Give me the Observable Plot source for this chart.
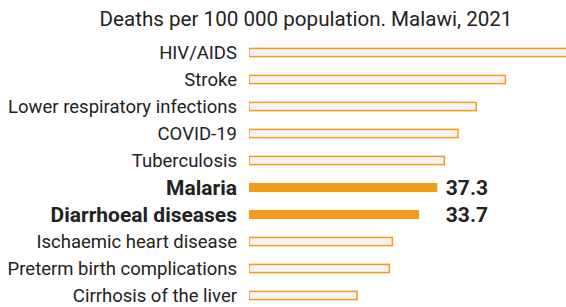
<!DOCTYPE html>
<html>
<head>
<meta charset="utf-8">
<script src="https://cdn.jsdelivr.net/npm/d3@7"></script>
<script src="https://cdn.jsdelivr.net/npm/@observablehq/plot@0.6"></script>
<style>
  html, body { margin: 0; padding: 0; background: #fff; overflow: hidden; }
  #wrap { width: 566px; position: relative; font-family: Roboto, sans-serif; }
  #title { height: 32px; padding-top: 2px; line-height: 34px; font-size: 20.6px; color: #222;
           white-space: nowrap; position: relative; }
  #title span { position: absolute; left: 306px; transform: translateX(-50%); }
</style>
</head>
<body>
<div id="wrap">
  <div id="title"><span>Deaths per 100 000 population. Malawi, 2021</span></div>
  <div id="chart"></div>
</div>
<script>
const causes = [
  "HIV/AIDS",
  "Stroke",
  "Lower respiratory infections",
  "COVID-19",
  "Tuberculosis",
  "Malaria",
  "Diarrhoeal diseases",
  "Ischaemic heart disease",
  "Preterm birth complications",
  "Cirrhosis of the liver"
];
const deaths = [66.0, 50.8, 45.0, 41.4, 38.7, 37.3, 33.7, 28.4, 27.8, 21.4];
const highlighted = ["Malaria", "Diarrhoeal diseases"];

const data = causes.map((c, i) => ({cause: c, value: deaths[i], hl: highlighted.includes(c)}));
const normal = data.filter(d => !d.hl);
const hot = data.filter(d => d.hl);
const labelX = d3.max(hot, d => d.value);

const orange = "#f39c1b";

const chart = Plot.plot({
  width: 566,
  height: 273,
  marginLeft: 249,
  marginRight: 0,
  marginTop: 0,
  marginBottom: 0,
  style: {fontFamily: "Roboto, sans-serif", background: "transparent"},
  x: {domain: [0, 62.8], axis: null},
  y: {domain: causes, range: [13.65, 266.25], paddingInner: 0.68, paddingOuter: 0, align: 0.5, axis: null},
  marks: [
    Plot.barX(normal, {x: "value", y: "cause", fill: "#f3f3f3", stroke: orange, strokeWidth: 1.5, insetTop: 0.4, insetBottom: 0.4, clip: true}),
    Plot.barX(hot, {x: "value", y: "cause", fill: orange}),
    Plot.text(normal, {x: 0, y: "cause", text: "cause", textAnchor: "end", dx: -12.5, dy: 0.5, fontSize: 18.5, fill: "#222"}),
    Plot.text(hot, {x: 0, y: "cause", text: "cause", textAnchor: "end", dx: -12.5, dy: 0.5, fontSize: 21, fontWeight: "bold", fill: "#222"}),
    Plot.text(hot, {x: () => labelX, y: "cause", text: d => d.value.toFixed(1), textAnchor: "start", dx: 8, dy: 0.5, fontSize: 21, fontWeight: "bold", fill: "#222"})
  ]
});
document.getElementById("chart").appendChild(chart);
</script>
</body>
</html>
